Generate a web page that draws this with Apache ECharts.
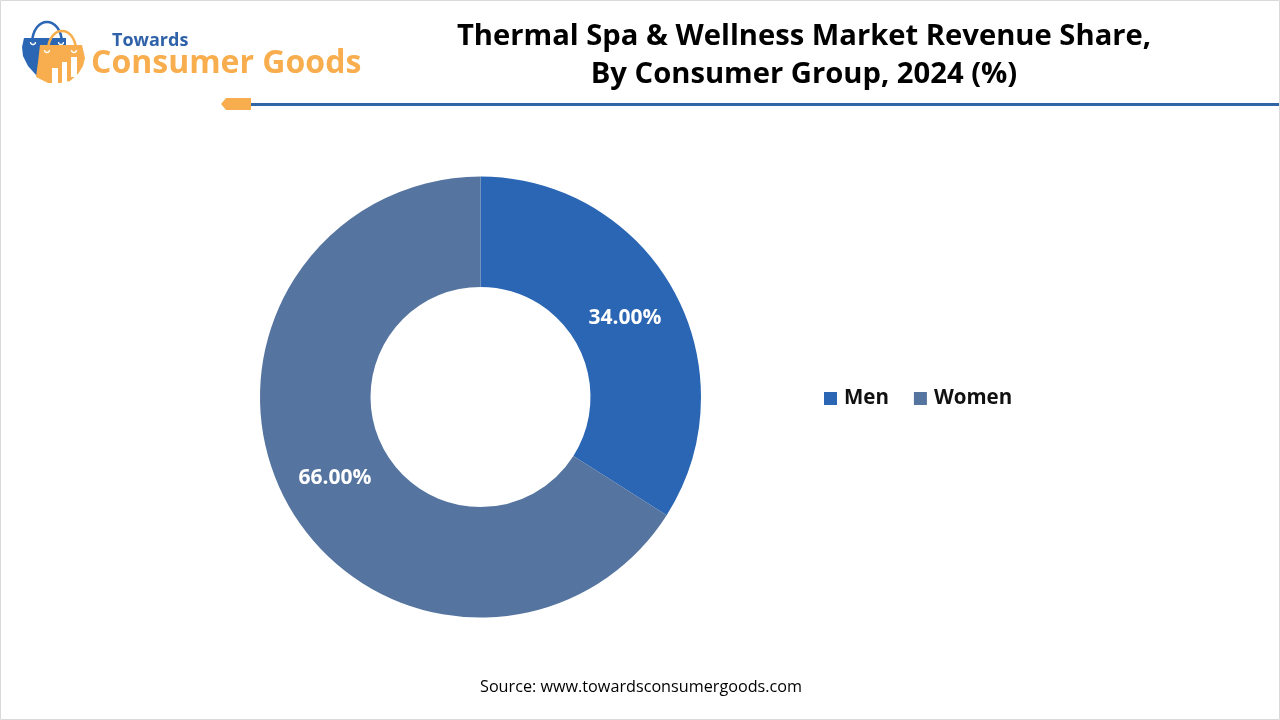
<!DOCTYPE html>
<html lang="en">
  <head>
    <meta charset="UTF-8" />
    <title>Thermal Spa & Wellness Market Revenue Share</title>
    <script src="https://cdn.jsdelivr.net/npm/echarts@6/dist/echarts.min.js"></script>
    <style>
      html, body { margin: 0; padding: 0; background: #fff; }
      #main { width: 1280px; height: 720px; }
    </style>
  </head>
  <body>
    <div id="main"></div>
    <script>
      const categories = ["Men", "Women"];
      const shareValues = [34, 66];
      const sliceColors = ["#2a66b4", "#55749f"];
      const titleLines = [
        "Thermal Spa & Wellness Market Revenue Share,",
        "By Consumer Group, 2024 (%)",
      ];
      const sourceText = "Source: www.towardsconsumergoods.com";

      const blue = "#2a66b4";
      const orange = "#f8ae4e";
      const font = '"Open Sans", sans-serif';
      const labelOffsets = [[-3, 2], [2, 0]]; // nudge labels onto the reference spots

      const myChart = echarts.init(document.getElementById("main"));

      function handle(x1, x2, top, bottom, color) {
        const bulge = (top - bottom) * 0.33;
        return {
          type: "bezierCurve",
          shape: { x1, y1: bottom, x2, y2: bottom, cpx1: x1 + 1, cpy1: top + bulge, cpx2: x2 - 1, cpy2: top + bulge },
          style: { stroke: color, lineWidth: 2.5, fill: null },
        };
      }

      function hook(cx, cy) {
        return {
          type: "arc",
          shape: { cx, cy, r: 2.5, startAngle: 0, endAngle: Math.PI },
          style: { stroke: "#fff", lineWidth: 1.3, fill: null },
        };
      }

      // logo and header decoration
      const logo = [
        handle(32, 62, 22, 43, blue),
        {
          type: "polygon",
          shape: { points: [[24, 38], [66, 38], [66, 60], [55, 82], [46, 80], [36, 75], [28, 66], [23, 56], [22, 47]] },
          style: { fill: blue },
        },
        hook(33, 42),
        hook(61, 42),
        handle(48, 76, 31, 50, orange),
        {
          type: "polygon",
          shape: { points: [[40, 45], [82, 45], [85, 58], [83, 66], [78, 74], [70, 81], [60, 83], [48, 83], [36, 77], [38, 62]] },
          style: { fill: orange },
        },
        hook(47, 50),
        hook(74, 50),
        { type: "rect", shape: { x: 52, y: 68, width: 6, height: 15 }, style: { fill: "#fff" } },
        { type: "rect", shape: { x: 62, y: 62, width: 5, height: 21 }, style: { fill: "#fff" } },
        { type: "rect", shape: { x: 71, y: 57, width: 6, height: 20 }, style: { fill: "#fff" } },
        { type: "text", style: { x: 112, y: 41, text: "Towards", fill: "#2f62a8", font: "bold 18px " + font, textVerticalAlign: "middle" } },
        { type: "text", style: { x: 91, y: 64, text: "Consumer Goods", fill: orange, font: "bold 32px " + font, textVerticalAlign: "middle" } },
      ];

      const header = [
        { type: "rect", shape: { x: 251, y: 103, width: 1029, height: 3 }, style: { fill: "#2f65a5" } },
        { type: "polygon", shape: { points: [[221, 104], [226, 98], [251, 98], [251, 110], [226, 110]] }, style: { fill: orange } },
        { type: "rect", shape: { x: 0.5, y: 0.5, width: 1279, height: 719 }, style: { fill: null, stroke: "#d9d9d9", lineWidth: 1 } },
      ];

      const option = {
        animation: false,
        backgroundColor: "#fff",
        title: [
          {
            text: titleLines.join("\n"),
            left: 799,
            top: 12,
            textAlign: "center",
            textStyle: { fontFamily: font, fontSize: 29.2, fontWeight: "bold", color: "#000", lineHeight: 38.5 },
          },
          {
            text: sourceText,
            left: 636,
            top: 674,
            textAlign: "center",
            textStyle: { fontFamily: font, fontSize: 16.2, fontWeight: "normal", color: "#000" },
          },
        ],
        legend: {
          data: categories,
          left: 819,
          top: 383,
          icon: "rect",
          itemWidth: 13,
          itemHeight: 13,
          itemGap: 25,
          textStyle: { fontFamily: font, fontSize: 20.5, fontWeight: "bold", color: "#111", padding: [0, 0, 0, 2] },
        },
        series: [
          {
            type: "pie",
            center: [480.5, 397],
            radius: [110, 220.5],
            startAngle: 90,
            clockwise: true,
            label: {
              show: true,
              position: "inside",
              formatter: (p) => p.value.toFixed(2) + "%",
              fontFamily: font,
              fontSize: 21,
              fontWeight: "bold",
              color: "#fff",
            },
            labelLine: { show: false },
            emphasis: { disabled: true },
            data: categories.map((name, i) => ({
              name,
              value: shareValues[i],
              itemStyle: { color: sliceColors[i] },
              label: { offset: labelOffsets[i] },
            })),
          },
        ],
        graphic: logo.concat(header),
      };

      option && myChart.setOption(option);
    </script>
  </body>
</html>
